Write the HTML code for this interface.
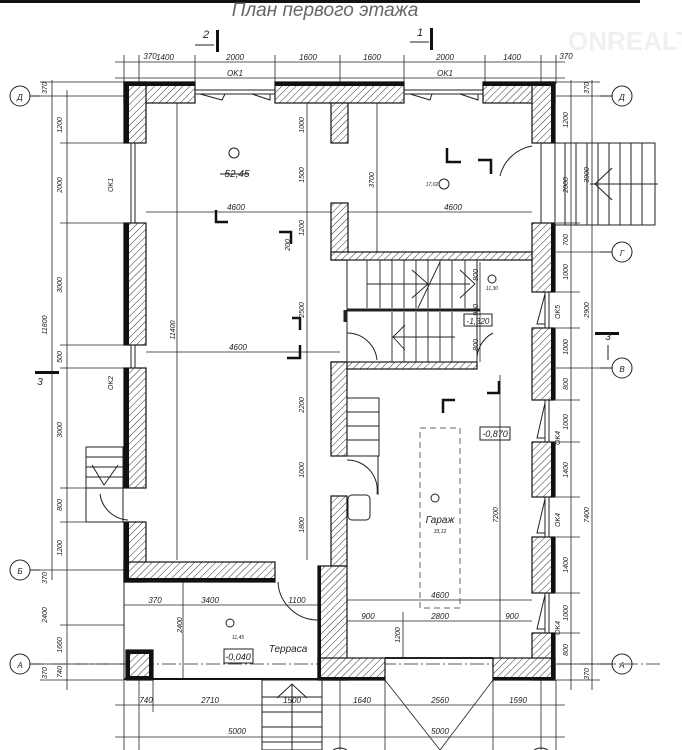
<!DOCTYPE html>
<html><head><meta charset="utf-8"><style>
html,body{margin:0;padding:0;background:#fff;width:682px;height:750px;overflow:hidden}
svg{display:block}
text{font-family:"Liberation Sans",sans-serif;font-style:italic;fill:#222}
</style></head><body>
<svg width="682" height="750" viewBox="0 0 682 750" xmlns="http://www.w3.org/2000/svg">
<defs>
<pattern id="h" width="5" height="5" patternUnits="userSpaceOnUse" patternTransform="rotate(45)">
<rect width="5" height="5" fill="#fff"/><line x1="0" y1="0" x2="0" y2="5" stroke="#333" stroke-width="1"/>
</pattern>
</defs>
<rect x="0" y="0" width="640" height="3" fill="#111"/>
<text x="325" y="16" font-size="19" text-anchor="middle" style="fill:#666">План первого этажа</text>
<text x="568" y="50" font-size="26" font-weight="bold" style="fill:#f0f0f0;font-style:normal">ONREALT</text>

<g stroke="#222" stroke-width="0.8" fill="none">
<line x1="115" y1="78" x2="565" y2="78"/>
<line x1="115" y1="62" x2="565" y2="62"/>
<line x1="124" y1="55" x2="124" y2="84"/><line x1="139" y1="55" x2="139" y2="84"/>
<line x1="195" y1="55" x2="195" y2="84"/><line x1="275" y1="55" x2="275" y2="84"/>
<line x1="340" y1="55" x2="340" y2="84"/><line x1="404" y1="55" x2="404" y2="84"/>
<line x1="485" y1="55" x2="485" y2="84"/><line x1="541" y1="55" x2="541" y2="84"/><line x1="556" y1="55" x2="556" y2="84"/>
<line x1="52" y1="80" x2="52" y2="580"/><line x1="67" y1="90" x2="67" y2="690"/>
<line x1="40" y1="96" x2="124" y2="96"/><line x1="60" y1="143" x2="124" y2="143"/>
<line x1="60" y1="223" x2="124" y2="223"/><line x1="60" y1="345" x2="124" y2="345"/>
<line x1="60" y1="368" x2="124" y2="368"/><line x1="60" y1="488" x2="124" y2="488"/>
<line x1="60" y1="522" x2="124" y2="522"/><line x1="40" y1="570" x2="124" y2="570"/>
<line x1="40" y1="664" x2="124" y2="664"/><line x1="60" y1="625" x2="124" y2="625"/>
<line x1="40" y1="680" x2="124" y2="680"/><line x1="40" y1="82" x2="124" y2="82"/>
<line x1="571" y1="80" x2="571" y2="690"/><line x1="592" y1="80" x2="592" y2="690"/>
<line x1="556" y1="96" x2="605" y2="96"/><line x1="556" y1="143" x2="580" y2="143"/>
<line x1="556" y1="223" x2="580" y2="223"/><line x1="556" y1="252" x2="605" y2="252"/>
<line x1="556" y1="292" x2="580" y2="292"/><line x1="556" y1="328" x2="580" y2="328"/>
<line x1="556" y1="368" x2="605" y2="368"/><line x1="556" y1="400" x2="580" y2="400"/>
<line x1="556" y1="442" x2="580" y2="442"/><line x1="556" y1="497" x2="580" y2="497"/>
<line x1="556" y1="537" x2="580" y2="537"/><line x1="556" y1="593" x2="580" y2="593"/>
<line x1="556" y1="633" x2="580" y2="633"/><line x1="556" y1="664" x2="605" y2="664"/>
<line x1="556" y1="680" x2="600" y2="680"/><line x1="556" y1="82" x2="600" y2="82"/>
<line x1="115" y1="705" x2="565" y2="705"/><line x1="115" y1="737" x2="565" y2="737"/>
<line x1="124" y1="680" x2="124" y2="750"/><line x1="139" y1="680" x2="139" y2="750"/>
<line x1="153" y1="680" x2="153" y2="712"/><line x1="262" y1="680" x2="262" y2="712"/>
<line x1="322" y1="680" x2="322" y2="712"/><line x1="340" y1="680" x2="340" y2="750"/>
<line x1="385" y1="680" x2="385" y2="750"/><line x1="493" y1="680" x2="493" y2="750"/>
<line x1="541" y1="680" x2="541" y2="750"/><line x1="556" y1="680" x2="556" y2="750"/>
<line x1="385" y1="680" x2="440" y2="750"/><line x1="493" y1="680" x2="440" y2="750"/>
<line x1="146" y1="212" x2="532" y2="212"/>
<line x1="146" y1="352" x2="340" y2="352"/>
<line x1="307" y1="103" x2="307" y2="560"/>
<line x1="377" y1="103" x2="377" y2="252"/>
<line x1="177" y1="103" x2="177" y2="560"/>
<line x1="480" y1="262" x2="480" y2="362"/>
<line x1="500" y1="375" x2="500" y2="658"/>
<line x1="347" y1="600" x2="532" y2="600"/>
<line x1="347" y1="621" x2="532" y2="621"/>
<line x1="403" y1="612" x2="403" y2="658"/>
<line x1="124" y1="605" x2="322" y2="605"/>
<line x1="183" y1="582" x2="183" y2="680"/>
<line x1="30" y1="664" x2="660" y2="664" stroke-dasharray="14 3 2 3"/>
</g>

<g fill="url(#h)" stroke="#111" stroke-width="1.2">
<rect x="124" y="82" width="71" height="21"/>
<rect x="275" y="82" width="129" height="21"/>
<rect x="483" y="82" width="72" height="21"/>
<rect x="124" y="82" width="22" height="61"/>
<rect x="124" y="223" width="22" height="122"/>
<rect x="124" y="368" width="22" height="120"/>
<rect x="124" y="522" width="22" height="60"/>
<rect x="124" y="562" width="151" height="20"/>
<rect x="532" y="82" width="23" height="61"/>
<rect x="532" y="223" width="23" height="69"/>
<rect x="532" y="328" width="23" height="72"/>
<rect x="532" y="442" width="23" height="55"/>
<rect x="532" y="537" width="23" height="56"/>
<rect x="532" y="633" width="23" height="47"/>
<rect x="331" y="103" width="17" height="40"/>
<rect x="331" y="203" width="17" height="57"/>
<rect x="331" y="252" width="201" height="8"/>
<rect x="331" y="362" width="146" height="7"/>
<rect x="331" y="362" width="16" height="94"/>
<rect x="331" y="496" width="16" height="70"/>
<rect x="318" y="566" width="29" height="114"/>
<rect x="318" y="658" width="67" height="22"/>
<rect x="493" y="658" width="62" height="22"/>
<rect x="126" y="650" width="27" height="30"/>
</g>
<g fill="#111">
<rect x="124" y="82" width="71" height="4"/><rect x="275" y="82" width="129" height="4"/><rect x="483" y="82" width="72" height="4"/>
<rect x="124" y="82" width="5" height="61"/><rect x="124" y="223" width="5" height="122"/><rect x="124" y="368" width="5" height="120"/><rect x="124" y="522" width="5" height="60"/>
<rect x="124" y="578" width="151" height="4"/>
<rect x="551" y="82" width="4" height="61"/><rect x="551" y="223" width="4" height="69"/><rect x="551" y="328" width="4" height="72"/>
<rect x="551" y="442" width="4" height="55"/><rect x="551" y="537" width="4" height="56"/><rect x="551" y="633" width="4" height="47"/>
<rect x="318" y="677" width="67" height="3"/><rect x="493" y="677" width="62" height="3"/>
<rect x="318" y="566" width="3" height="114"/>
<rect x="124" y="678" width="200" height="2"/>
<rect x="126" y="650" width="27" height="4"/><rect x="126" y="676" width="27" height="4"/><rect x="126" y="650" width="4" height="30"/><rect x="149" y="650" width="4" height="30"/>
</g>

<g stroke="#222" stroke-width="1" fill="none">
<rect x="195" y="90" width="80" height="4"/><rect x="404" y="90" width="79" height="4"/>
<rect x="131" y="143" width="4" height="80"/><rect x="131" y="345" width="4" height="23"/>
<rect x="545" y="292" width="4" height="36"/><rect x="545" y="400" width="4" height="42"/>
<rect x="545" y="497" width="4" height="40"/><rect x="545" y="593" width="4" height="40"/>
<polyline points="545,294 537,324 545,324"/><polyline points="545,403 537,438 545,438"/>
<polyline points="545,499 537,533 545,533"/><polyline points="545,595 537,629 545,629"/>
<polyline points="200,94 222,100 225,94"/><polyline points="252,94 270,100 270,94"/>
<polyline points="410,94 430,100 432,94"/><polyline points="460,94 478,100 478,94"/>
<path d="M532,146 A40,40 0 0,0 500,176"/><line x1="541" y1="143" x2="541" y2="223"/>
<path d="M347,333 A30,30 0 0,1 377,360"/>
<path d="M493,333 A30,30 0 0,0 477,362"/>
<path d="M278,582 A40,40 0 0,0 318,620"/>
<path d="M347,460 A30,30 0 0,1 377,494"/><line x1="378" y1="456" x2="378" y2="495"/>
<path d="M128,520 A30,30 0 0,1 100,494"/>
<line x1="385" y1="658" x2="493" y2="658" stroke-width="2"/>
<rect x="347" y="260" width="130" height="102"/>
<line x1="347" y1="310" x2="480" y2="310" stroke-width="3"/>
<line x1="345" y1="310" x2="345" y2="322" stroke-width="3"/>
<g stroke-width="0.9">
<line x1="367" y1="260" x2="367" y2="308"/><line x1="380" y1="260" x2="380" y2="308"/><line x1="392" y1="260" x2="392" y2="308"/><line x1="404" y1="260" x2="404" y2="308"/><line x1="416" y1="260" x2="416" y2="308"/><line x1="428" y1="260" x2="428" y2="308"/><line x1="440" y1="260" x2="440" y2="308"/><line x1="452" y1="260" x2="452" y2="308"/><line x1="465" y1="260" x2="465" y2="308"/>
<line x1="392" y1="312" x2="392" y2="362"/><line x1="404" y1="312" x2="404" y2="362"/><line x1="416" y1="312" x2="416" y2="362"/><line x1="428" y1="312" x2="428" y2="362"/><line x1="440" y1="312" x2="440" y2="362"/><line x1="452" y1="312" x2="452" y2="362"/>
<line x1="367" y1="284" x2="470" y2="284"/><line x1="392" y1="337" x2="455" y2="337"/>
<polyline points="412,270 428,284 412,298"/><polyline points="460,270 475,284 460,298"/><polyline points="405,325 393,337 405,350"/>
<line x1="418" y1="308" x2="440" y2="262"/>
</g>
<rect x="347" y="398" width="32" height="58"/>
<line x1="347" y1="412" x2="379" y2="412"/><line x1="347" y1="426" x2="379" y2="426"/><line x1="347" y1="440" x2="379" y2="440"/>
<rect x="348" y="495" width="22" height="25" rx="4"/>
<rect x="420" y="428" width="40" height="180" stroke-dasharray="6 4" stroke="#666"/>
<rect x="555" y="143" width="100" height="82"/>
<line x1="565" y1="143" x2="565" y2="225"/><line x1="576" y1="143" x2="576" y2="225"/><line x1="587" y1="143" x2="587" y2="225"/><line x1="598" y1="143" x2="598" y2="225"/><line x1="609" y1="143" x2="609" y2="225"/><line x1="620" y1="143" x2="620" y2="225"/><line x1="631" y1="143" x2="631" y2="225"/><line x1="642" y1="143" x2="642" y2="225"/>
<line x1="590" y1="184" x2="658" y2="184"/><polyline points="612,168 595,184 612,200"/>
<rect x="86" y="447" width="37" height="41"/>
<line x1="86" y1="457" x2="123" y2="457"/><line x1="86" y1="467" x2="123" y2="467"/><line x1="86" y1="477" x2="123" y2="477"/>
<polyline points="92,465 104,485 118,465"/><rect x="86" y="488" width="37" height="34"/>
<rect x="262" y="680" width="60" height="70"/>
<line x1="262" y1="697" x2="322" y2="697"/><line x1="262" y1="712" x2="322" y2="712"/><line x1="262" y1="727" x2="322" y2="727"/><line x1="262" y1="742" x2="322" y2="742"/>
<line x1="292" y1="684" x2="292" y2="750"/><polyline points="277,698 292,684 307,698"/>
<line x1="124" y1="582" x2="124" y2="680"/>
<circle cx="20" cy="96" r="10"/><circle cx="20" cy="570" r="10"/><circle cx="20" cy="664" r="10"/>
<circle cx="622" cy="96" r="10"/><circle cx="622" cy="252" r="10"/><circle cx="622" cy="368" r="10"/><circle cx="622" cy="664" r="10"/>
<line x1="30" y1="96" x2="40" y2="96"/><line x1="30" y1="570" x2="40" y2="570"/><line x1="30" y1="664" x2="40" y2="664"/>
<line x1="600" y1="96" x2="612" y2="96"/><line x1="600" y1="252" x2="612" y2="252"/><line x1="600" y1="368" x2="612" y2="368"/><line x1="600" y1="664" x2="612" y2="664"/>
<circle cx="340" cy="760" r="12"/><circle cx="541" cy="760" r="12"/>
<rect x="480" y="427" width="30" height="13"/><rect x="464" y="314" width="28" height="12"/><rect x="224" y="649" width="29" height="14"/>
<circle cx="234" cy="153" r="5"/><circle cx="444" cy="184" r="5"/><circle cx="492" cy="279" r="4"/><circle cx="435" cy="498" r="4"/><circle cx="230" cy="623" r="4"/>
<line x1="220" y1="174" x2="248" y2="174"/>
</g>
<g fill="#111">
<rect x="216" y="30" width="3" height="22"/><rect x="430" y="28" width="3" height="22"/>
<rect x="35" y="371" width="24" height="3"/>
<rect x="595" y="332" width="24" height="3"/>
</g>
<g stroke="#111" stroke-width="2.5" fill="none">
<polyline points="216,210 216,222 228,222"/><polyline points="279,232 291,232 291,244"/>
<polyline points="447,148 447,162 461,162"/><polyline points="478,160 491,160 491,174"/>
<polyline points="292,318 300,318 300,330"/><polyline points="300,345 300,358 287,358"/>
<polyline points="443,413 443,400 455,400"/><polyline points="487,393 499,393 499,381"/>
</g>
<g stroke="#222" stroke-width="1" fill="none"><line x1="195" y1="45" x2="214" y2="45"/><line x1="410" y1="42" x2="429" y2="42"/><line x1="608" y1="345" x2="608" y2="360"/></g>

<g font-size="8" text-anchor="middle">
<text x="150" y="59">370</text><text x="165" y="60">1400</text><text x="235" y="60">2000</text><text x="308" y="60">1600</text><text x="372" y="60">1600</text><text x="445" y="60">2000</text><text x="512" y="60">1400</text><text x="566" y="59">370</text>
<text x="235" y="76">OK1</text><text x="445" y="76">OK1</text>
<text x="206" y="38" font-size="11">2</text><text x="420" y="36" font-size="11">1</text>
<text x="237" y="177" font-size="10">52,45</text>
<text x="236" y="210">4600</text><text x="453" y="210">4600</text><text x="238" y="350">4600</text>
<text x="440" y="598">4600</text><text x="440" y="619">2800</text><text x="368" y="619">900</text><text x="512" y="619">900</text>
<text x="440" y="523" font-size="10">Гараж</text><text x="440" y="533" font-size="5">33,12</text>
<text x="288" y="652" font-size="10">Терраса</text><text x="238" y="660" font-size="9">-0,040</text>
<text x="495" y="437" font-size="9">-0,870</text><text x="478" y="324" font-size="8">-1,320</text>
<text x="238" y="639" font-size="5">11,45</text><text x="432" y="186" font-size="5">17,02</text><text x="492" y="290" font-size="5">11,30</text>
<text x="155" y="603">370</text><text x="210" y="603">3400</text><text x="297" y="603">1100</text>
<text x="146" y="703">740</text><text x="210" y="703">2710</text><text x="292" y="703">1500</text><text x="362" y="703">1640</text><text x="440" y="703">2560</text><text x="518" y="703">1590</text>
<text x="237" y="734">5000</text><text x="440" y="734">5000</text>
<text x="20" y="100">Д</text><text x="20" y="574">Б</text><text x="20" y="668">А</text>
<text x="622" y="100">Д</text><text x="622" y="256">Г</text><text x="622" y="372">В</text><text x="622" y="668">А</text>
<text x="608" y="340" font-size="10">3</text><text x="40" y="385" font-size="10">3</text>
</g>
<g font-size="7" text-anchor="middle">
<text transform="translate(62,125) rotate(-90)">1200</text><text transform="translate(62,185) rotate(-90)">2000</text>
<text transform="translate(62,285) rotate(-90)">3000</text><text transform="translate(62,357) rotate(-90)">500</text>
<text transform="translate(62,430) rotate(-90)">3000</text><text transform="translate(62,505) rotate(-90)">800</text>
<text transform="translate(62,548) rotate(-90)">1200</text><text transform="translate(62,645) rotate(-90)">1660</text>
<text transform="translate(47,325) rotate(-90)">11800</text><text transform="translate(47,615) rotate(-90)">2400</text>
<text transform="translate(47,88) rotate(-90)">370</text><text transform="translate(47,578) rotate(-90)">370</text><text transform="translate(47,673) rotate(-90)">370</text><text transform="translate(62,672) rotate(-90)">740</text>
<text transform="translate(113,185) rotate(-90)">OK1</text><text transform="translate(113,383) rotate(-90)">OK2</text>
<text transform="translate(175,330) rotate(-90)">11400</text>
<text transform="translate(304,125) rotate(-90)">1000</text><text transform="translate(304,175) rotate(-90)">1500</text><text transform="translate(304,228) rotate(-90)">1200</text>
<text transform="translate(304,310) rotate(-90)">2500</text><text transform="translate(304,405) rotate(-90)">2200</text><text transform="translate(304,470) rotate(-90)">1000</text><text transform="translate(304,525) rotate(-90)">1800</text>
<text transform="translate(374,180) rotate(-90)">3700</text><text transform="translate(182,625) rotate(-90)">2400</text>
<text transform="translate(498,515) rotate(-90)">7200</text><text transform="translate(400,635) rotate(-90)">1200</text>
<text transform="translate(478,275) rotate(-90)">800</text><text transform="translate(478,310) rotate(-90)">900</text><text transform="translate(478,345) rotate(-90)">800</text>
<text transform="translate(568,120) rotate(-90)">1200</text><text transform="translate(568,185) rotate(-90)">2000</text><text transform="translate(568,240) rotate(-90)">700</text>
<text transform="translate(568,272) rotate(-90)">1000</text><text transform="translate(568,384) rotate(-90)">800</text><text transform="translate(568,347) rotate(-90)">1000</text>
<text transform="translate(568,422) rotate(-90)">1000</text><text transform="translate(568,470) rotate(-90)">1400</text><text transform="translate(568,613) rotate(-90)">1000</text><text transform="translate(568,650) rotate(-90)">800</text><text transform="translate(568,565) rotate(-90)">1400</text>
<text transform="translate(589,175) rotate(-90)">3900</text><text transform="translate(589,310) rotate(-90)">2900</text><text transform="translate(589,515) rotate(-90)">7400</text>
<text transform="translate(589,88) rotate(-90)">370</text><text transform="translate(589,674) rotate(-90)">370</text>
<text transform="translate(560,312) rotate(-90)">OK5</text><text transform="translate(560,438) rotate(-90)">OK4</text><text transform="translate(560,520) rotate(-90)">OK4</text><text transform="translate(560,628) rotate(-90)">OK4</text>
<text transform="translate(290,245) rotate(-90)">200</text>
</g>
</svg>
</body></html>
